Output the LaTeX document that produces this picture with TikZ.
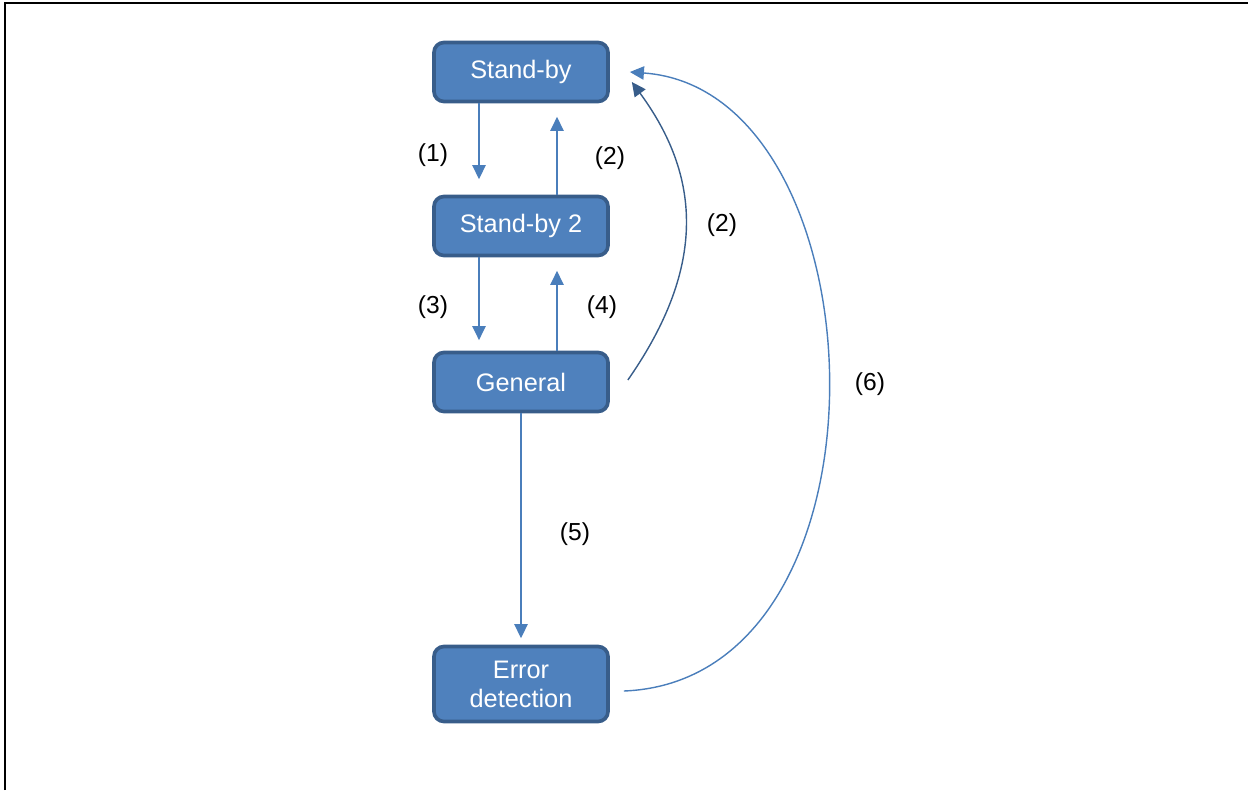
\documentclass[tikz,border=0pt]{standalone}
\usepackage{fontspec}
\setmainfont{Liberation Sans}
\usetikzlibrary{arrows.meta,calc}
\definecolor{boxfill}{HTML}{4F81BD}
\definecolor{boxline}{HTML}{385D8A}
\definecolor{arrowblue}{HTML}{4A7EBB}
\tikzset{
    statebox/.style={draw=boxline, line width=2.6pt, fill=boxfill, rounded corners=0.25cm,
        minimum width=4.35cm, minimum height=1.475cm, text=white, align=center,
        font=\fontsize{18}{20.5}\selectfont},
    trans/.style={arrowblue, line width=1pt, -{Triangle[length=10pt,width=9.5pt]}},
    lbl/.style={font=\fontsize{17.5}{21}\selectfont}
}
\begin{document}
\begin{tikzpicture}[x=0.025cm, y=-0.025cm]
    \useasboundingbox (0,0) rectangle (1248,790);
    % 边框
    \draw[line width=1.4pt] (5,790) -- (5,3) -- (1248,3);

    % 状态
    \node[statebox] (standby) at (521,72) {Stand-by};
    \node[statebox] (standby2) at (521,226) {Stand-by 2};
    \node[statebox] (general) at (521,382) {General};
    \node[statebox, minimum height=1.875cm] (errdet) at (521,684) {Error\\detection};

    % 直线转换
    \draw[trans, shorten >=11pt] ($(standby.south)+(-42,0)$) -- ($(standby2.north)+(-42,0)$);
    \draw[trans, shorten >=9.6pt] ($(standby2.north)+(36,0)$) -- ($(standby.south)+(36,0)$);
    \draw[trans, shorten >=7.5pt] ($(standby2.south)+(-42,0)$) -- ($(general.north)+(-42,0)$);
    \draw[trans, shorten >=9.6pt] ($(general.north)+(36,0)$) -- ($(standby2.south)+(36,0)$);
    \draw[trans, shorten >=4.6pt] (general.south) -- (errdet.north);

    % 曲线转换
    \coordinate (gen-out) at ($(general.east)+(18,-2)$);
    \coordinate (sb-in1) at ($(standby.east)+(22,10)$);
    \coordinate (err-out) at ($(errdet.east)+(14,7)$);
    \coordinate (sb-in2) at ($(standby.east)+(20,0)$);
    \draw[trans, draw=boxline, -{Triangle[length=10pt,width=9.5pt,fill=boxline]}]
        (gen-out) .. controls (708,265) and (700,175) .. (sb-in1);
    \draw[trans] (err-out) .. controls (905,680) and (885,90) .. (sb-in2);

    % 标签
    \node[lbl] (l1) at (433,155) {(1)};
    \node[lbl] (l2) at (610,158) {(2)};
    \node[lbl] (l2b) at (722,225) {(2)};
    \node[lbl] (l3) at (433,307) {(3)};
    \node[lbl] (l4) at (602,307) {(4)};
    \node[lbl] (l5) at (575,534) {(5)};
    \node[lbl] (l6) at (870,384) {(6)};
\end{tikzpicture}
\end{document}
